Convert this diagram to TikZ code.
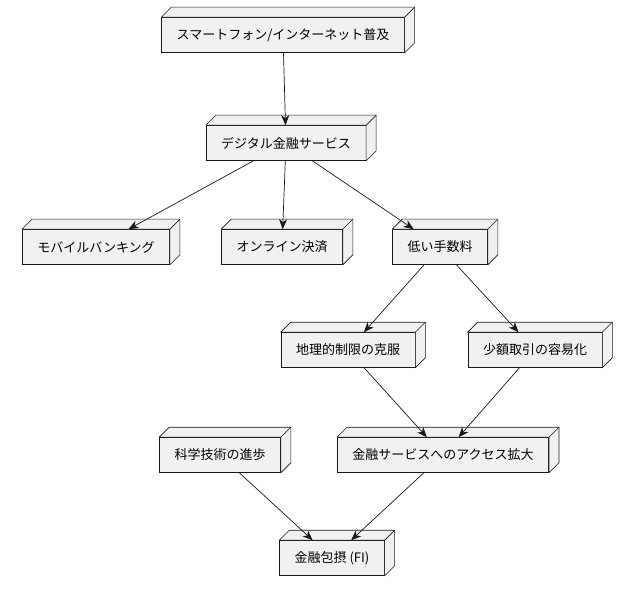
\documentclass[tikz,border=0pt]{standalone}
\usepackage{fontspec}
\setmainfont{Noto Sans CJK JP}
\usetikzlibrary{arrows.meta}
\definecolor{boxfill}{HTML}{F1F1F1}
\definecolor{boxline}{HTML}{181818}
\tikzset{
  comp/.style={draw=boxline, fill=boxfill, line width=0.6pt, minimum height=35pt,
    inner xsep=15pt, font=\fontsize{13}{15}\selectfont},
  flow/.style={-{Stealth[length=10pt,width=8pt,inset=3pt]}, line width=0.7pt, draw=boxline}
}
\begin{document}
\begin{tikzpicture}[x=1pt,y=-1pt]
  \useasboundingbox (0,0) rectangle (630,599);
  \node[comp] (net) at (283,35) {スマートフォン/インターネット普及};
  \node[comp] (dfs) at (286,143) {デジタル金融サービス};
  \node[comp] (mob) at (96,247) {モバイルバンキング};
  \node[comp] (pay) at (282,247) {オンライン決済};
  \node[comp] (fee) at (440,247) {低い手数料};
  \node[comp] (geo) at (348,350) {地理的制限の克服};
  \node[comp] (small) at (535,350) {少額取引の容易化};
  \node[comp] (tech) at (220,455) {科学技術の進歩};
  \node[comp] (acc) at (443,455) {金融サービスへのアクセス拡大};
  \node[comp] (fi) at (332,558) {金融包摂 (FI)};
  % depth faces
  \foreach \n in {net,dfs,mob,pay,fee,geo,small,tech,acc,fi} {
    \draw[draw=boxline, fill=boxfill, line width=0.6pt, line join=round]
      (\n.north west) -- ++(10,-10) -- ([shift={(10,-10)}]\n.north east)
      -- ([shift={(10,-10)}]\n.south east) -- (\n.south east) -- (\n.north east) -- cycle;
    \draw[draw=boxline, line width=0.6pt] (\n.north east) -- ++(10,-10);
  }
  \draw[flow] (net) -- (dfs);
  \draw[flow] (dfs) -- (mob);
  \draw[flow] (dfs) -- (pay);
  \draw[flow] (dfs) -- (fee);
  \draw[flow] (fee) -- (geo);
  \draw[flow] (fee) -- (small);
  \draw[flow] (geo) -- (acc);
  \draw[flow] (small) -- (acc);
  \draw[flow] (tech) -- (fi);
  \draw[flow] (acc) -- (fi);
\end{tikzpicture}
\end{document}
